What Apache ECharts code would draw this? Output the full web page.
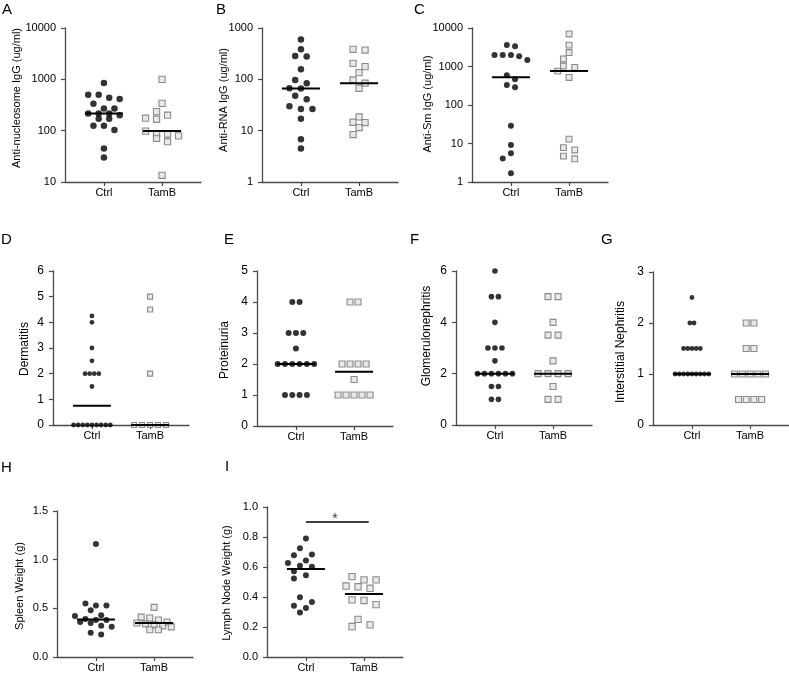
<!DOCTYPE html>
<html><head><meta charset="utf-8">
<script src="https://cdn.jsdelivr.net/npm/echarts@6/dist/echarts.min.js"></script>
<style>html,body{margin:0;padding:0;background:#fff}#c{width:789px;height:673px}</style>
</head><body><div id="c"></div>
<script>
const groups = ['Ctrl', 'TamB'];

// A: Anti-nucleosome IgG (ug/ml)
const aCtrl = [850, 500, 500, 440, 415, 335, 270, 270, 215, 215, 215, 200, 170, 170, 125, 125, 103, 45, 30];
const aTamB = [1000, 340, 235, 200, 175, 167, 98, 86, 86, 79, 71, 61, 13.5];
// B: Anti-RNA IgG (ug/ml)
const bCtrl = [600, 385, 285, 277, 157, 97, 84, 67, 66, 48, 41, 30, 26.5, 26.5, 17, 6.8, 4.5];
const bTamB = [385, 372, 205, 177, 135, 97, 84, 67, 18.5, 14.6, 14.4, 11.5, 8.4];
// C: Anti-Sm IgG (ug/ml)
const cCtrl = [3600, 3350, 1990, 1990, 1990, 1840, 1480, 590, 465, 330, 290, 29, 9.1, 5.6, 4.1, 1.7];
const cTamB = [7000, 3600, 2300, 1570, 1030, 950, 760, 520, 13, 7.8, 6.8, 4.7, 4.0];
// D: Dermatitis
const dCtrl = [4.25, 4, 3, 2.5, 2, 2, 2, 2, 1.5, 0, 0, 0, 0, 0, 0, 0, 0, 0];
const dTamB = [5, 4.5, 2, 0, 0, 0, 0, 0];
// E: Proteinuria
const eCtrl = [4, 4, 3, 3, 3, 2.5, 2, 2, 2, 2, 2, 2, 1, 1, 1, 1];
const eTamB = [4, 4, 2, 2, 2, 2, 1.5, 1, 1, 1, 1, 1];
// F: Glomerulonephritis
const fCtrl = [6, 5, 5, 4, 3, 3, 3, 2.5, 2, 2, 2, 2, 2, 2, 1.5, 1.5, 1, 1];
const fTamB = [5, 5, 4, 3.5, 3.5, 2.5, 2, 2, 2, 2, 1.5, 1, 1];
// G: Interstitial Nephritis
const gCtrl = [2.5, 2, 2, 1.5, 1.5, 1.5, 1.5, 1.5, 1, 1, 1, 1, 1, 1, 1, 1, 1];
const gTamB = [2, 2, 1.5, 1.5, 1, 1, 1, 1, 1, 0.5, 0.5, 0.5, 0.5];
// H: Spleen Weight (g)
const hCtrl = [1.16, 0.55, 0.53, 0.53, 0.48, 0.43, 0.42, 0.39, 0.38, 0.38, 0.36, 0.35, 0.32, 0.31, 0.25, 0.23];
const hTamB = [1.52, 0.51, 0.41, 0.40, 0.38, 0.36, 0.35, 0.34, 0.33, 0.32, 0.31, 0.28, 0.28];
// I: Lymph Node Weight (g)
const iCtrl = [0.79, 0.725, 0.684, 0.678, 0.643, 0.627, 0.608, 0.601, 0.571, 0.545, 0.523, 0.399, 0.366, 0.342, 0.327, 0.296];
const iTamB = [0.536, 0.514, 0.514, 0.473, 0.468, 0.458, 0.381, 0.377, 0.349, 0.251, 0.214, 0.203];
const iSig = {from: 1, to: 2.08, y: 0.9, text: '*'};

const FONT = '"Liberation Sans", Arial, sans-serif';
const X_MIN = 0.33, X_MAX = 2.67, GW = 136;

const panels = [
  {L:'A', c:aCtrl, t:aTamB, log:true, min:10, max:10000, name:'Anti-nucleosome IgG (ug/ml)', left:65, top:28, h:154, tx:17, ty:98, lx:2, ly:10, cs:10.5, ts:11, cz:6.5, tz:6.2, thr:5, fs:11, tfs:11},
  {L:'B', c:bCtrl, t:bTamB, log:true, min:1, max:1000, name:'Anti-RNA IgG (ug/ml)', left:262, top:28, h:154, tx:224, ty:100, lx:216, ly:10, cs:11.5, ts:12, cz:6.5, tz:6.2, thr:5, fs:11, tfs:11},
  {L:'C', c:cCtrl, t:cTamB, log:true, min:1, max:10000, name:'Anti-Sm IgG (ug/ml)', left:472, top:28, h:154, tx:428, ty:104, lx:414, ly:10, cs:8.2, ts:11.3, cz:6, tz:5.8, thr:5, fs:11, tfs:11},
  {L:'D', c:dCtrl, t:dTamB, min:0, max:6, iv:1, name:'Dermatitis', left:53, top:271, h:154, tx:25, ty:349, lx:1, ly:240, cs:4.6, ts:8, cz:4.8, tz:5, thr:3, fs:12, tfs:12},
  {L:'E', c:eCtrl, t:eTamB, min:0, max:5, iv:1, name:'Proteinuria', left:257, top:271, h:155, tx:225, ty:350, lx:224, ly:240, cs:7.3, ts:8, cz:6, tz:6, thr:3, fs:12, tfs:12},
  {L:'F', c:fCtrl, t:fTamB, min:0, max:6, iv:2, name:'Glomerulonephritis', left:456, top:271, h:154, tx:427, ty:336, lx:410, ly:240, cs:7, ts:10, cz:5.6, tz:6, thr:3, fs:12, tfs:12},
  {L:'G', c:gCtrl, t:gTamB, min:0, max:3, iv:1, name:'Interstitial Nephritis', left:653, top:272, h:153, tx:621, ty:352, lx:601, ly:240, cs:4.2, ts:7.7, cz:4.8, tz:6, thr:3, fs:12, tfs:12},
  {L:'H', c:hCtrl, t:hTamB, min:0, max:1.5, iv:0.5, dec:1, name:'Spleen Weight (g)', left:57, top:511, h:149, tx:20, ty:586, lx:1, ly:468, cs:10.5, ts:8.6, cz:6, tz:6, thr:5, fs:11, tfs:11},
  {L:'I', c:iCtrl, t:iTamB, min:0, max:1, iv:0.2, dec:1, name:'Lymph Node Weight (g)', left:267, top:507, h:153, tx:227, ty:583, lx:225, ly:467, cs:12, ts:12, cz:6, tz:6.3, thr:7, fs:11, tfs:11, sig:iSig}
];

function median(a) {
  const s = a.slice().sort((x, y) => x - y), n = s.length;
  return n % 2 ? s[(n - 1) / 2] : (s[n / 2 - 1] + s[n / 2]) / 2;
}
// beeswarm: group points into rows (pixel space), spread each row symmetrically,
// then shift a row sideways by half/whole steps if it collides with already placed points
function swarm(vals, toPx, step, thr, size) {
  const idx = vals.map((v, i) => i).sort((a, b) => toPx(vals[a]) - toPx(vals[b]));
  const off = new Array(vals.length).fill(0);
  const placed = [];
  const coll = size * 1.2;
  const shifts = [0, -0.5, 0.5, -1, 1];
  let row = [], start = null;
  const flush = () => {
    const n = row.length;
    if (!n) return;
    const base = row.map((k, j) => (j - (n - 1) / 2) * step);
    let best = 0;
    for (const s of shifts) {
      const ok = row.every((k, j) => placed.every(q => Math.hypot(base[j] + s * step - q[0], toPx(vals[k]) - q[1]) >= coll));
      if (ok) { best = s; break; }
    }
    row.forEach((k, j) => { off[k] = base[j] + best * step; placed.push([off[k], toPx(vals[k])]); });
    row = [];
  };
  idx.forEach(k => {
    const y = toPx(vals[k]);
    if (start === null || y - start >= thr) { flush(); start = y; }
    row.push(k);
  });
  flush();
  return off;
}

const grid = [], xAxis = [], yAxis = [], series = [], graphic = [];
const pxToX = (X_MAX - X_MIN) / GW;
const axisColor = '#4a4a4a';

panels.forEach((p, gi) => {
  grid.push({left: p.left, top: p.top, width: GW, height: p.h, containLabel: false});
  xAxis.push({
    gridIndex: gi, type: 'value', min: X_MIN, max: X_MAX,
    axisLine: {onZero: false, lineStyle: {color: axisColor, width: 1.3}},
    axisTick: {show: true, length: 4, customValues: [1, 2], lineStyle: {color: axisColor, width: 1.2}},
    axisLabel: {customValues: [1, 2], formatter: v => groups[Math.round(v) - 1] || '', color: '#000', fontSize: 11, fontFamily: FONT, margin: 5},
    splitLine: {show: false}
  });
  const ya = {
    gridIndex: gi, type: p.log ? 'log' : 'value', min: p.min, max: p.max,
    axisLine: {show: true, onZero: false, lineStyle: {color: axisColor, width: 1.3}},
    axisTick: {show: true, length: 4, lineStyle: {color: axisColor, width: 1.2}},
    axisLabel: {color: '#000', fontSize: p.fs, fontFamily: FONT, margin: 9,
      formatter: p.log ? (v => String(Math.round(v))) : (v => p.dec ? v.toFixed(p.dec) : String(Math.round(v)))},
    splitLine: {show: false}, minorTick: {show: false}
  };
  if (p.log) ya.logBase = 10; else ya.interval = p.iv;
  yAxis.push(ya);

  const toPx = p.log
    ? v => p.top + p.h * (1 - (Math.log10(v) - Math.log10(p.min)) / (Math.log10(p.max) - Math.log10(p.min)))
    : v => p.top + p.h * (1 - (v - p.min) / (p.max - p.min));
  const oc = swarm(p.c, toPx, p.cs, p.thr, p.cz);
  const ot = swarm(p.t, toPx, p.ts, p.thr, p.tz);
  series.push({
    type: 'scatter', xAxisIndex: gi, yAxisIndex: gi, symbol: 'circle', symbolSize: p.cz,
    itemStyle: {color: '#000'}, z: 3, silent: true,
    data: p.c.map((v, i) => [1 + oc[i] * pxToX, v])
  });
  series.push({
    type: 'scatter', xAxisIndex: gi, yAxisIndex: gi, symbol: 'rect', symbolSize: p.tz,
    itemStyle: {color: '#e4e4e4', borderColor: '#707070', borderWidth: 1.1}, z: 3, silent: true,
    data: p.t.map((v, i) => [2 + ot[i] * pxToX, v])
  });
  [[1, median(p.c)], [2, median(p.t)]].forEach(([cx, m]) => {
    series.push({
      type: 'line', xAxisIndex: gi, yAxisIndex: gi, symbol: 'none', silent: true, z: 5,
      lineStyle: {color: '#000', width: 2}, data: [[cx - 0.327, m], [cx + 0.327, m]]
    });
  });
  if (p.sig) {
    series.push({
      type: 'line', xAxisIndex: gi, yAxisIndex: gi, symbol: 'none', silent: true, z: 5,
      lineStyle: {color: '#000', width: 1.3}, data: [[p.sig.from, p.sig.y], [p.sig.to, p.sig.y]]
    });
    series.push({
      type: 'scatter', xAxisIndex: gi, yAxisIndex: gi, symbolSize: 0.1, silent: true, z: 6,
      itemStyle: {color: 'rgba(0,0,0,0)'},
      label: {show: true, position: 'top', distance: -4, formatter: p.sig.text, color: '#000', fontSize: 14, fontFamily: FONT},
      data: [[(p.sig.from + 2) / 2, p.sig.y]]
    });
  }
  graphic.push({type: 'text', x: p.lx, y: p.ly, silent: true,
    style: {text: p.L, font: '15px ' + FONT, fill: '#000', textAlign: 'left', textVerticalAlign: 'middle'}});
  graphic.push({type: 'text', x: p.tx, y: p.ty, rotation: Math.PI / 2, silent: true,
    style: {text: p.name, font: p.tfs + 'px ' + FONT, fill: '#000', textAlign: 'center', textVerticalAlign: 'middle'}});
});

const chart = echarts.init(document.getElementById('c'), null, {renderer: 'canvas'});
chart.setOption({animation: false, backgroundColor: '#fff', grid, xAxis, yAxis, series, graphic});
</script>
</body></html>
